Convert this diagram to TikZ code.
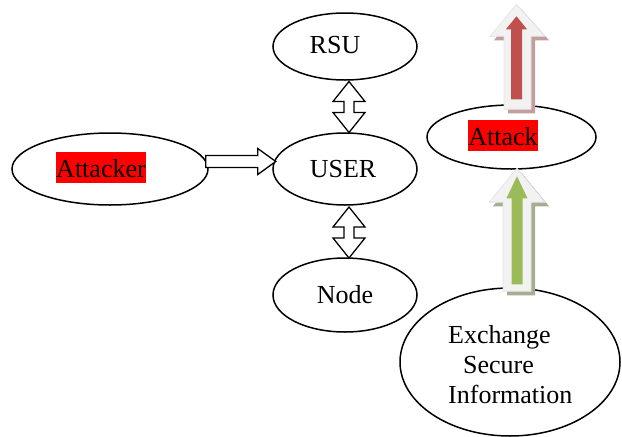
\documentclass[tikz,border=0pt]{standalone}
\usepackage{fontspec}
\setmainfont{Liberation Serif}
\usetikzlibrary{shapes.geometric,calc}

\definecolor{attackred}{HTML}{C0504D}
\definecolor{redshadow}{HTML}{C29E9E}
\definecolor{safegreen}{HTML}{9BBB59}
\definecolor{greenshadow}{HTML}{A6AE92}
\definecolor{paleface}{HTML}{F2F2F2}
\definecolor{paleedge}{HTML}{E2E2E2}

\tikzset{
  oval/.style={draw=black, line width=1.5pt, ellipse, inner sep=0pt},
  lbl/.style={anchor=base, inner sep=0pt, font=\fontsize{26}{30}\selectfont},
  marked/.style={lbl, fill=red, text height=25pt, text depth=6pt},
  hollow/.style={draw=black, line width=1.3pt, fill=white, line join=miter},
  bigshadow/.style={fill=#1, draw=none},
  bigouter/.style={fill=paleface, draw=paleedge, line width=0.6pt},
  bigcore/.style={fill=#1, draw=none}
}

\begin{document}
\begin{tikzpicture}[x=1pt, y=-1pt]
  \useasboundingbox (0,0) rectangle (622,437);

  % ellipses
  \node[oval, minimum width=196pt, minimum height=72pt] (attacker) at (110,169) {};
  \node[oval, minimum width=144pt, minimum height=67pt] (rsu)  at (345,46.5) {};
  \node[oval, minimum width=144pt, minimum height=72pt] (user) at (345,169) {};
  \node[oval, minimum width=144pt, minimum height=74pt] (node) at (345,295) {};
  \node[oval, minimum width=169pt, minimum height=64pt] (attack) at (511.5,137) {};
  \node[oval, minimum width=220pt, minimum height=148pt] (exchange) at (510,362) {};

  % labels
  \node[marked] (tattacker) at (101,177) {Attacker};
  \node[lbl] (trsu)  at (335,53) {RSU};
  \node[lbl] (tuser) at (343,177) {USER};
  \node[lbl] (tnode) at (345,303) {Node};
  \node[marked] (tattack) at (503,145) {Attack};
  \node[lbl, anchor=base west] (tex1) at (448,343) {Exchange};
  \node[lbl, anchor=base west] (tex2) at (463,373) {Secure};
  \node[lbl, anchor=base west] (tex3) at (448,403) {Information};

  % hollow double arrows between RSU/USER and USER/Node
  \coordinate (ru) at ($(rsu.south)!0.5!(user.north)+(4,0.5)$);
  \coordinate (un) at ($(user.south)!0.5!(node.north)+(4,1)$);
  \foreach \c in {ru,un}{
    \draw[hollow] (\c) ++(0,-25.5) -- ++(16,20) -- ++(-11,0) -- ++(0,11)
      -- ++(11,0) -- ++(-16,20) -- ++(-16,-20) -- ++(11,0) -- ++(0,-11)
      -- ++(-11,0) -- cycle;
  }

  % hollow arrow from Attacker to USER
  \coordinate (ha) at ($(attacker.east)+(-3,-7.5)$);
  \draw[hollow] (ha) ++(0,-6) -- ++(52,0) -- ++(0,-7) -- ++(18,13)
    -- ++(-18,13) -- ++(0,-7) -- ++(-52,0) -- cycle;

  % large upward arrow above Attack (red)
  \coordinate (ra) at ($(attack.north)+(5,0)$);
  \fill[bigshadow=redshadow] ($(ra)+(4,-96)$) -- ++(28.5,32) -- ++(-14,0)
    -- ++(0,73) -- ++(-27,0) -- ++(0,-73) -- ++(-14,0) -- cycle;
  \draw[bigouter] ($(ra)+(0,-100)$) -- ++(28.5,32) -- ++(-14,0)
    -- ++(0,73) -- ++(-27,0) -- ++(0,-73) -- ++(-14,0) -- cycle;
  \fill[bigcore=attackred] ($(ra)+(0,-88)$) -- ++(10.5,13) -- ++(-5,0)
    -- ++(0,70) -- ++(-11,0) -- ++(0,-70) -- ++(-5,0) -- cycle;

  % large upward arrow from Exchange to Attack (green)
  \coordinate (ga) at ($(exchange.north)+(7,0)$);
  \fill[bigshadow=greenshadow] ($(ga)+(4,-115)$) -- ++(28,34) -- ++(-14,0)
    -- ++(0,89) -- ++(-28,0) -- ++(0,-89) -- ++(-14,0) -- cycle;
  \draw[bigouter] ($(ga)+(0,-119)$) -- ++(28,34) -- ++(-14,0)
    -- ++(0,89) -- ++(-28,0) -- ++(0,-89) -- ++(-14,0) -- cycle;
  \fill[bigcore=safegreen] ($(ga)+(0,-111)$) -- ++(10.5,22) -- ++(-5,0)
    -- ++(0,86) -- ++(-11,0) -- ++(0,-86) -- ++(-5,0) -- cycle;
\end{tikzpicture}
\end{document}
